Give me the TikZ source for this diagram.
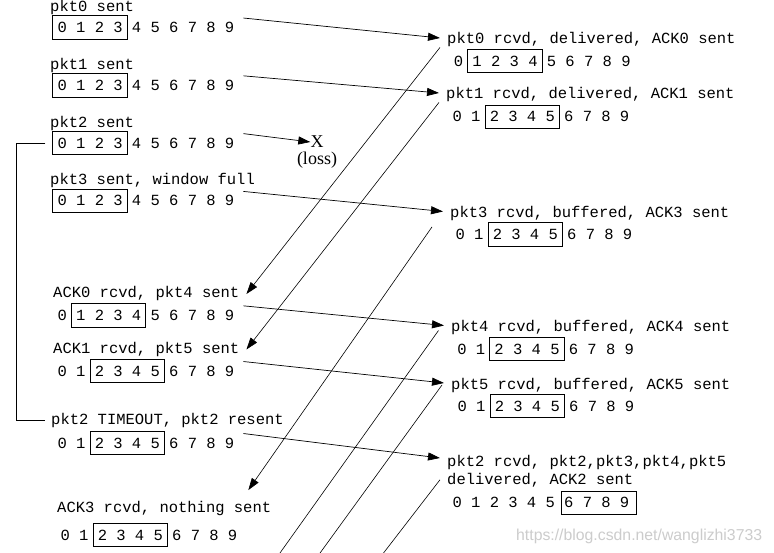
\documentclass[tikz,border=0pt]{standalone}
\usepackage{fontspec}
\usetikzlibrary{arrows.meta}
\newfontfamily\pktfont{Liberation Mono}
\newfontfamily\lossfont{Liberation Serif}
\newfontfamily\markfont{Liberation Sans}
\tikzset{
  lbl/.style={anchor=base west,inner sep=0pt,font=\pktfont\fontsize{15.5}{18.6}\selectfont},
  win/.style={draw,line width=0.8pt,inner sep=0pt,minimum width=74.4pt,minimum height=23.5pt},
  msg/.style={line width=0.7pt,-{Triangle[length=12pt,width=8pt]}},
  ack/.style={line width=0.6pt,-{Triangle[length=12pt,width=8pt]}},
  loss/.style={inner sep=0pt,font=\lossfont\fontsize{18}{21}\selectfont},
}
\begin{document}
\begin{tikzpicture}[x=1pt,y=-1pt]
    \useasboundingbox (0,0) rectangle (774,553);
    \clip (0,0) rectangle (774,553);
    \fill[white] (0,0) rectangle (774,553);
    %% sender, pkt0 .. pkt3 sent
    \foreach \i/\txt in {0/pkt0 sent,1/pkt1 sent,2/pkt2 sent,3/{pkt3 sent, window full}} {
        \pgfmathsetmacro\c{27.5+57.8*\i}
        \node[lbl] (s\i) at (50,\c-16) {\txt};
        \node[lbl] (w\i) at (57.35,\c+5.1) {0 1 2 3 4 5 6 7 8 9};
        \node[win] (k\i) at (89.9,\c) {};
    }
    %% sender, after the acks
    \node[lbl] (a0) at (53,298) {ACK0 rcvd, pkt4 sent};
    \node[lbl] (w4) at (57.35,320.4) {0 1 2 3 4 5 6 7 8 9};
    \node[win] (k4) at (108.5,315.3) {};
    \node[lbl] (a1) at (53,353.5) {ACK1 rcvd, pkt5 sent};
    \node[lbl] (w5) at (57.35,376.1) {0 1 2 3 4 5 6 7 8 9};
    \node[win] (k5) at (127.1,371) {};
    \node[lbl] (t2) at (51,424) {pkt2 TIMEOUT, pkt2 resent};
    \node[lbl] (w6) at (57.35,448.1) {0 1 2 3 4 5 6 7 8 9};
    \node[win] (k6) at (127.1,443) {};
    \node[lbl] (a3) at (57,512.5) {ACK3 rcvd, nothing sent};
    \node[lbl] (w7) at (60.35,540.1) {0 1 2 3 4 5 6 7 8 9};
    \node[win] (k7) at (130.1,535) {};
    %% receiver
    \node[lbl] (r0) at (447,44) {pkt0 rcvd, delivered, ACK0 sent};
    \node[lbl] (v0) at (453.65,66.1) {0 1 2 3 4 5 6 7 8 9};
    \node[win] (q0) at (504.8,61) {};
    \node[lbl] (r1) at (446,99) {pkt1 rcvd, delivered, ACK1 sent};
    \node[lbl] (v1) at (452.35,121.8) {0 1 2 3 4 5 6 7 8 9};
    \node[win] (q1) at (522.1,116.7) {};
    \node[lbl] (r3) at (450,217.5) {pkt3 rcvd, buffered, ACK3 sent};
    \node[lbl] (v3) at (455.35,239.4) {0 1 2 3 4 5 6 7 8 9};
    \node[win] (q3) at (525.1,234.3) {};
    \node[lbl] (r4) at (451,331.5) {pkt4 rcvd, buffered, ACK4 sent};
    \node[lbl] (v4) at (457.05,354.1) {0 1 2 3 4 5 6 7 8 9};
    \node[win] (q4) at (526.8,349) {};
    \node[lbl] (r5) at (451,389) {pkt5 rcvd, buffered, ACK5 sent};
    \node[lbl] (v5) at (457.35,411.1) {0 1 2 3 4 5 6 7 8 9};
    \node[win] (q5) at (527.1,406) {};
    \node[lbl] (r2) at (447,466) {pkt2 rcvd, pkt2,pkt3,pkt4,pkt5};
    \node[lbl] (d2) at (447,484) {delivered, ACK2 sent};
    \node[lbl] (v2) at (452.35,507.8) {0 1 2 3 4 5 6 7 8 9};
    \node[win] (q2) at (599,502.7) {};
    %% the lost packet
    \node[loss] (x2) at (317,142) {X};
    \node[loss] (l2) at (317,160) {(loss)};
    %% packets
    \draw[msg] ([xshift=9pt,yshift=4pt]w0.north east) -- ([xshift=-7pt,yshift=2pt]r0.west);
    \draw[msg] ([xshift=9pt,yshift=4pt]w1.north east) -- ([xshift=-7pt,yshift=2pt]r1.west);
    \draw[msg] ([xshift=9pt,yshift=4pt]w2.north east) -- (x2.west);
    \draw[msg] ([xshift=9pt,yshift=4pt]w3.north east) -- ([xshift=-7pt,yshift=2pt]r3.west);
    \draw[msg] ([xshift=9pt,yshift=4pt]w4.north east) -- ([xshift=-7pt,yshift=2pt]r4.west);
    \draw[msg] ([xshift=9pt,yshift=4pt]w5.north east) -- ([xshift=-7pt,yshift=2pt]r5.west);
    \draw[msg] ([xshift=9pt,yshift=4pt]w6.north east) -- ([xshift=-7pt,yshift=4pt]r2.west);
    %% acks
    \draw[ack] ([xshift=-7pt]r0.south west) -- ([xshift=7pt]a0.east);
    \draw[ack] ([xshift=-7pt]r1.south west) -- ([xshift=7pt]a1.east);
    \draw[ack] ([xshift=-18pt,yshift=-6pt]r3.south west) -- ([xshift=-23pt,yshift=11pt]a3.north east);
    \coordinate (e4) at (275.7,559);
    \coordinate (e5) at (315.7,559);
    \coordinate (e2) at (378.9,559);
    \draw[line width=0.6pt] ([xshift=-12.5pt,yshift=-3pt]r4.west) -- (e4);
    \draw[line width=0.6pt] ([xshift=-9pt]r5.west) -- (e5);
    \draw[line width=0.6pt] ([xshift=-7pt]d2.west) -- (e2);
    %% timeout
    \draw[line width=0.8pt] ([xshift=-7pt]k2.west) -- ++(-29,0) |- ([xshift=-6pt]t2.west);
    %% watermark
    \node[anchor=base west,inner sep=0pt,text=black!20,font=\markfont\fontsize{15.8}{19}\selectfont] (wm) at (516,540.6) {https://blog.csdn.net/wanglizhi3733};
\end{tikzpicture}
\end{document}
